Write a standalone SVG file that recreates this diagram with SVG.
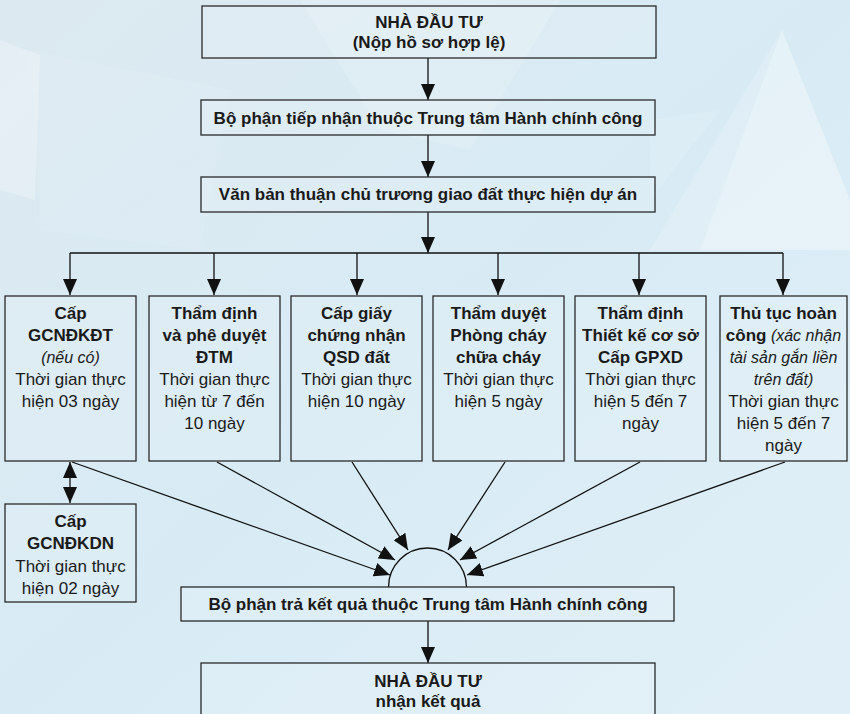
<svg xmlns="http://www.w3.org/2000/svg" width="850" height="714" viewBox="0 0 850 714">
  <defs>
    <linearGradient id="bg" x1="0" y1="0" x2="1" y2="1">
      <stop offset="0" stop-color="#dce9f0"/>
      <stop offset="0.5" stop-color="#d8ebf5"/>
      <stop offset="1" stop-color="#e0eff7"/>
    </linearGradient>
    <marker id="arrow" viewBox="0 0 16 14" refX="16" refY="7" markerWidth="16" markerHeight="14" markerUnits="userSpaceOnUse" orient="auto-start-reverse">
      <path d="M0,0 L16,7 L0,14 Z" fill="#111"/>
    </marker>
    <style>
      .box { fill: #ffffff; fill-opacity: 0.12; stroke: #2a2a2a; stroke-width: 1.3; }
      .line { fill: none; stroke: #111; stroke-width: 1.3; }
      .arr { fill: none; stroke: #111; stroke-width: 1.3; marker-end: url(#arrow); }
      text { font-family: "Liberation Sans", Arial, sans-serif; font-size: 17px; fill: #1a1a1a; text-anchor: middle; }
      .b { font-weight: bold; }
      .i { font-style: italic; font-size: 16px; }
    </style>
  </defs>

  <!-- background with soft faceted light planes -->
  <rect x="0" y="0" width="850" height="714" fill="url(#bg)"/>
  <g fill="#ffffff">
    <polygon points="782,30 700,250 850,250 850,200" opacity="0.35"/>
    <polygon points="782,30 650,250 700,250" opacity="0.18"/>
    <polygon points="0,40 40,55 35,200 0,190" opacity="0.25"/>
    <polygon points="30,50 230,90 200,250 40,230" opacity="0.08"/>
    <polygon points="300,0 560,0 470,150 380,130" opacity="0.15"/>
    <polygon points="650,120 720,110 650,200" opacity="0.12"/>
  </g>

  <!-- connectors -->
  <g id="connectors">
    <line class="arr" x1="428" y1="58" x2="428" y2="100"/>
    <line class="arr" x1="428" y1="135" x2="428" y2="177"/>
    <line class="arr" x1="428" y1="212" x2="428" y2="253"/>
    <line class="line" x1="70" y1="253" x2="783" y2="253"/>
    <line class="arr" x1="70" y1="253" x2="70" y2="295"/>
    <line class="arr" x1="214" y1="253" x2="214" y2="295"/>
    <line class="arr" x1="357" y1="253" x2="357" y2="295"/>
    <line class="arr" x1="498" y1="253" x2="498" y2="295"/>
    <line class="arr" x1="639" y1="253" x2="639" y2="295"/>
    <line class="arr" x1="783" y1="253" x2="783" y2="295"/>
    <line class="arr" x1="70" y1="477" x2="70" y2="462"/>
    <line class="arr" x1="70" y1="486" x2="70" y2="503"/>
    <line class="line" x1="70" y1="477" x2="70" y2="486"/>
    <line class="arr" x1="72" y1="462" x2="390" y2="575"/>
    <line class="arr" x1="217" y1="462" x2="395" y2="560"/>
    <line class="arr" x1="352" y1="462" x2="408" y2="550"/>
    <line class="arr" x1="505" y1="462" x2="448" y2="550"/>
    <line class="arr" x1="640" y1="462" x2="460" y2="560"/>
    <line class="arr" x1="785" y1="462" x2="467" y2="575"/>
    <path class="line" d="M388.5,587 A39,39 0 0 1 466.5,587"/>
    <line class="arr" x1="428" y1="621" x2="428" y2="663"/>
  </g>

  <g id="investor-submit">
    <rect class="box" x="202" y="6" width="454" height="52"/>
    <text class="b" x="429" y="28">NHÀ ĐẦU TƯ</text>
    <text class="b" x="429" y="48">(Nộp hồ sơ hợp lệ)</text>
  </g>

  <g id="reception">
    <rect class="box" x="201" y="100" width="454" height="35"/>
    <text class="b" x="428" y="124">Bộ phận tiếp nhận thuộc Trung tâm Hành chính công</text>
  </g>

  <g id="approval">
    <rect class="box" x="201" y="177" width="454" height="35"/>
    <text class="b" x="428" y="200">Văn bản thuận chủ trương giao đất thực hiện dự án</text>
  </g>

  <g id="gcndkdt">
    <rect class="box" x="5" y="296" width="131" height="165"/>
    <text class="b" x="70.5" y="319">Cấp</text>
    <text class="b" x="70.5" y="341">GCNĐKĐT</text>
    <text class="i" x="70.5" y="363">(nếu có)</text>
    <text x="70.5" y="385">Thời gian thực</text>
    <text x="70.5" y="407">hiện 03 ngày</text>
  </g>

  <g id="dtm">
    <rect class="box" x="149" y="296" width="131" height="165"/>
    <text class="b" x="214.5" y="319">Thẩm định</text>
    <text class="b" x="214.5" y="341">và phê duyệt</text>
    <text class="b" x="214.5" y="363">ĐTM</text>
    <text x="214.5" y="385">Thời gian thực</text>
    <text x="214.5" y="407">hiện từ 7 đến</text>
    <text x="214.5" y="429">10 ngày</text>
  </g>

  <g id="qsd">
    <rect class="box" x="291" y="296" width="131" height="165"/>
    <text class="b" x="356.5" y="319">Cấp giấy</text>
    <text class="b" x="356.5" y="341">chứng nhận</text>
    <text class="b" x="356.5" y="363">QSD đất</text>
    <text x="356.5" y="385">Thời gian thực</text>
    <text x="356.5" y="407">hiện 10 ngày</text>
  </g>

  <g id="pccc">
    <rect class="box" x="433" y="296" width="131" height="165"/>
    <text class="b" x="498.5" y="319">Thẩm duyệt</text>
    <text class="b" x="498.5" y="341">Phòng cháy</text>
    <text class="b" x="498.5" y="363">chữa cháy</text>
    <text x="498.5" y="385">Thời gian thực</text>
    <text x="498.5" y="407">hiện 5 ngày</text>
  </g>

  <g id="gpxd">
    <rect class="box" x="575" y="296" width="131" height="165"/>
    <text class="b" x="640.5" y="319">Thẩm định</text>
    <text class="b" x="640.5" y="341">Thiết kế cơ sở</text>
    <text class="b" x="640.5" y="363">Cấp GPXD</text>
    <text x="640.5" y="385">Thời gian thực</text>
    <text x="640.5" y="407">hiện 5 đến 7</text>
    <text x="640.5" y="429">ngày</text>
  </g>

  <g id="hoan-cong">
    <rect class="box" x="720" y="296" width="127" height="165"/>
    <text class="b" x="783.5" y="319">Thủ tục hoàn</text>
    <text x="783.5" y="341"><tspan class="b">công</tspan><tspan class="i" font-size="15"> (xác nhận</tspan></text>
    <text class="i" x="783.5" y="363" font-size="15">tài sản gắn liền</text>
    <text class="i" x="783.5" y="385" font-size="15">trên đất)</text>
    <text x="783.5" y="407">Thời gian thực</text>
    <text x="783.5" y="429">hiện 5 đến 7</text>
    <text x="783.5" y="451">ngày</text>
  </g>

  <g id="gcndkdn">
    <rect class="box" x="5" y="504" width="131" height="98"/>
    <text class="b" x="70.5" y="527">Cấp</text>
    <text class="b" x="70.5" y="549">GCNĐKDN</text>
    <text x="70.5" y="572">Thời gian thực</text>
    <text x="70.5" y="594">hiện 02 ngày</text>
  </g>

  <g id="return-results">
    <rect class="box" x="181" y="587" width="493" height="34"/>
    <text class="b" x="428" y="610">Bộ phận trả kết quả thuộc Trung tâm Hành chính công</text>
  </g>

  <g id="investor-receive">
    <rect class="box" x="201" y="663" width="454" height="60"/>
    <text class="b" x="428" y="687">NHÀ ĐẦU TƯ</text>
    <text class="b" x="428" y="707">nhận kết quả</text>
  </g>
</svg>
